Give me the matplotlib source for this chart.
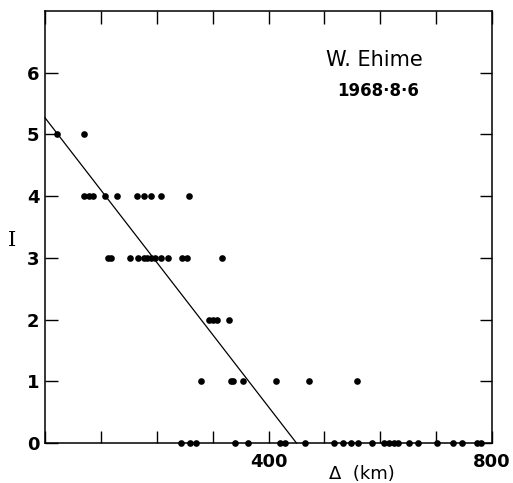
import matplotlib
matplotlib.use("Agg")
import matplotlib.pyplot as plt

# distance (km) and intensity of each observation
dist_km = [21, 70,
           70, 79, 86, 107, 129, 165, 177, 190, 208, 257,
           112, 118, 152, 167, 177, 183, 189, 196, 207, 220, 246, 254, 316,
           293, 300, 307, 329,
           279, 332, 336, 354, 414, 472, 558,
           244, 259, 271, 340, 363, 420, 429, 466, 518, 533, 548, 561, 586,
           607, 616, 624, 632, 651, 667, 701, 730, 747, 774, 780]
intensity = [5, 5,
             4, 4, 4, 4, 4, 4, 4, 4, 4, 4,
             3, 3, 3, 3, 3, 3, 3, 3, 3, 3, 3, 3, 3,
             2, 2, 2, 2,
             1, 1, 1, 1, 1, 1, 1,
             0, 0, 0, 0, 0, 0, 0, 0, 0, 0, 0, 0, 0,
             0, 0, 0, 0, 0, 0, 0, 0, 0, 0, 0]

# fitted attenuation line
fit_x = [0, 450]
fit_y = [5.27, 0]

xticks = [0, 100, 200, 300, 400, 500, 600, 700, 800]
xticklabels = ["", "", "", "", "400", "", "", "", "800"]
yticks = [0, 1, 2, 3, 4, 5, 6]

fig = plt.figure(figsize=(5.13, 4.83), dpi=100)
ax = fig.add_axes([45/513, 40/483, 447/513, 432/483])

ax.plot(dist_km, intensity, "o", color="black", ms=4.8, mew=0, clip_on=False, zorder=3)
ax.plot(fit_x, fit_y, color="black", lw=0.9, clip_on=False)

ax.set_xlim(0, 800)
ax.set_ylim(0, 7)
for s in ax.spines.values():
    s.set_linewidth(1.1)

ax.set_xticks(xticks)
ax.set_xticklabels(xticklabels, fontsize=13, fontweight="bold", family="DejaVu Sans")
ax.set_yticks(yticks)
ax.set_yticklabels([str(v) for v in yticks], fontsize=13, fontweight="bold",
                   family="DejaVu Sans")
ax.tick_params(axis="both", direction="in", length=9, width=1.0,
               top=True, right=True)
ax.tick_params(axis="x", pad=7)
ax.tick_params(axis="y", pad=4)

ax.text(590, 6.2, "W. Ehime", ha="center", va="center", fontsize=15,
        family="DejaVu Sans")
ax.text(596, 5.7, "1968·8·6", ha="center", va="center", fontsize=12,
        fontweight="bold", family="DejaVu Sans")

fig.text(362/513, 1 - 474/483, "Δ  (km)", ha="center", va="center",
         fontsize=13, family="DejaVu Sans")
fig.text(12/513, 1 - 240/483, "I", ha="center", va="center",
         fontsize=15, family="DejaVu Serif")

fig.savefig("out.png", dpi=100)
